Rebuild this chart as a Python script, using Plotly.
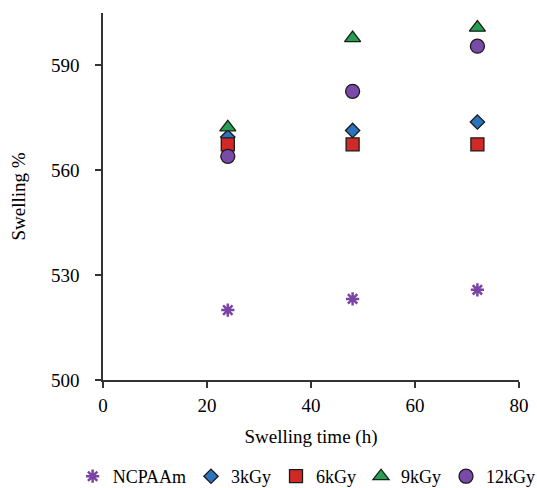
import plotly.graph_objects as go

time_h = [24, 48, 72]
ncpaam = [520.0, 523.2, 525.8]
kgy3 = [569.5, 571.4, 573.8]
kgy6 = [567.4, 567.4, 567.4]
kgy9 = [572.3, 597.8, 600.8]
kgy12 = [564.0, 582.6, 595.5]

series = [
    ("NCPAAm", ncpaam, "asterisk-open", "#7a44a6", 11),
    ("3kGy", kgy3, "diamond", "#2a74bd", 11),
    ("6kGy", kgy6, "square", "#d12a26", 13),
    ("9kGy", kgy9, "triangle-up", "#24a150", 14),
    ("12kGy", kgy12, "circle", "#7a4aa8", 14),
]

fig = go.Figure()
for name, vals, sym, col, sz in series:
    if sym == "asterisk-open":
        marker = dict(symbol=sym, size=sz, color=col, line=dict(color=col, width=2.5))
    else:
        marker = dict(symbol=sym, size=sz, color=col, line=dict(color="#1a1a1a", width=1.3))
    fig.add_trace(go.Scatter(x=time_h, y=vals, mode="markers", name=name, marker=marker))

font = "Liberation Serif"
fig.update_layout(
    width=537, height=488,
    margin=dict(l=103, r=18, t=13, b=108, autoexpand=False),
    plot_bgcolor="white", paper_bgcolor="white",
    font=dict(family=font, size=19, color="black"),
    showlegend=True,
    legend=dict(orientation="h", xref="paper", x=-0.073, xanchor="left",
                yref="paper", y=-0.263, yanchor="middle",
                bgcolor="rgba(0,0,0,0)",
                font=dict(family=font, size=18, color="black"),
                itemwidth=30, tracegroupgap=0),
    xaxis=dict(range=[0, 80], tickvals=[0, 20, 40, 60, 80], showgrid=False, zeroline=False,
               showline=True, linecolor="#333333", linewidth=1.5, automargin=False,
               ticks="outside", ticklen=6, tickcolor="#333333", tickwidth=1.5,
               tickfont=dict(family=font, size=19), ticklabelstandoff=1,
               title=dict(text="Swelling time (h)", font=dict(family=font, size=19), standoff=15)),
    yaxis=dict(range=[500, 605], tickvals=[500, 530, 560, 590], showgrid=False, zeroline=False,
               showline=True, linecolor="#333333", linewidth=1.5, automargin=False,
               ticks="outside", ticklen=6, tickcolor="#333333", tickwidth=1.5,
               tickfont=dict(family=font, size=19), ticklabelstandoff=12,
               title=dict(text="Swelling %", font=dict(family=font, size=19), standoff=20)),
)

fig.write_html("out.html", config={"displayModeBar": False},
               post_script="document.body.style.margin='0';document.body.style.overflow='hidden';")
